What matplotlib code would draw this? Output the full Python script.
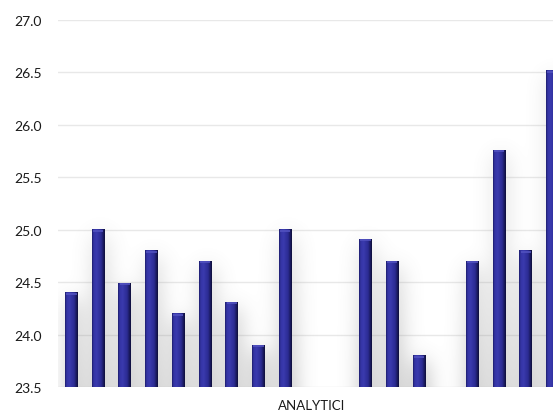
import numpy as np
import matplotlib
matplotlib.use("Agg")
import matplotlib.pyplot as plt
from matplotlib.colors import LinearSegmentedColormap

# Data (one category, 19 series; NaN = no visible bar)
category = "ANALYTICI"
values = [24.4, 25.0, 24.49, 24.8, 24.2, 24.7, 24.31, 23.9, 25.0,
          np.nan, np.nan, 24.91, 24.7, 23.8, np.nan, 24.7, 25.76, 24.8, 26.52]
yticks = [23.5, 24.0, 24.5, 25.0, 25.5, 26.0, 26.5, 27.0]
ymin, ymax = 23.5, 27.0

plt.rcParams['font.family'] = ['Lato', 'DejaVu Sans']

W, H = 553, 414
fig = plt.figure(figsize=(W / 100, H / 100), dpi=100)
ax = fig.add_axes([58 / W, 26 / H, 508 / W, 367 / H])

n = len(values)
xs = np.arange(n)
bw = 0.48
ax.set_xlim(-0.5, n - 0.5)
ax.set_ylim(ymin, ymax)

# soft drop shadow field (grid roughly 1 sample per pixel)
nx, ny = 508, 367
gx = np.linspace(-0.5, n - 0.5, nx)
gy = np.linspace(ymin, ymax, ny)
mask = np.zeros((ny, nx))
for x, v in zip(xs, values):
    if np.isnan(v):
        continue
    cx = x + 0.08
    inx = (gx >= cx - bw / 2) & (gx <= cx + bw / 2)
    iny = gy <= v - 0.06
    mask[np.ix_(iny, inx)] = 1.0

def blur1d(a, sigma, axis):
    r = int(3 * sigma)
    k = np.exp(-0.5 * (np.arange(-r, r + 1) / sigma) ** 2)
    k /= k.sum()
    pad = [(0, 0), (0, 0)]
    pad[axis] = (r, r)
    ap = np.pad(a, pad, mode='edge' if axis == 0 else 'constant')
    return np.apply_along_axis(lambda m: np.convolve(m, k, mode='valid'), axis, ap)

sh = blur1d(mask, 10, 1)
sh = blur1d(sh, 10, 0)
vert = np.clip(1.0 - (gy - ymin) / 2.5, 0.45, 1.0)[:, None]
alpha = np.clip(sh * 0.62 * vert, 0, 1)
rgba = np.zeros((ny, nx, 4))
rgba[..., :3] = 0.5
rgba[..., 3] = alpha
ax.imshow(rgba, extent=(-0.5, n - 0.5, ymin, ymax), origin='lower',
          aspect='auto', zorder=1, interpolation='bilinear')

# gridlines
for t in yticks:
    ax.axhline(t, color='#e8e8e8', lw=1.0, zorder=0.5)

# bars with horizontal gradient
cmap = LinearSegmentedColormap.from_list(
    'bar', [(0.0, '#1c1c6a'), (0.12, '#3434a4'), (0.35, '#3a3aae'),
            (0.7, '#2c2c94'), (0.88, '#1a1a60'), (1.0, '#0e0e38')])
grad = np.linspace(0, 1, 64)[None, :]
bars = ax.bar(xs, np.nan_to_num(np.array(values) - ymin, nan=0), bw,
              bottom=ymin, color='none', edgecolor='none', zorder=2)
for b, v in zip(bars, values):
    if np.isnan(v):
        continue
    x0 = b.get_x()
    ax.imshow(grad, cmap=cmap, extent=(x0, x0 + bw, ymin, v),
              aspect='auto', zorder=3, interpolation='bilinear')
    ax.plot([x0 + bw * 0.1, x0 + bw * 0.9], [v - 0.012, v - 0.012],
            color='#5252c0', lw=1.2, zorder=4, solid_capstyle='butt')

ax.set_xlim(-0.5, n - 0.5)
ax.set_ylim(ymin, ymax)
ax.set_yticks(yticks)
ax.set_yticklabels([f"{t:.1f}" for t in yticks], fontsize=10, color='#1a1a1a')
ax.set_xticks([(n - 1) / 2])
ax.set_xticklabels([category], fontsize=9.5, color='#1a1a1a')
ax.tick_params(length=0)
ax.tick_params(axis='y', pad=11.5)
ax.tick_params(axis='x', pad=9)
for s in ax.spines.values():
    s.set_visible(False)
ax.set_facecolor('white')

fig.savefig('out.png', dpi=100)
